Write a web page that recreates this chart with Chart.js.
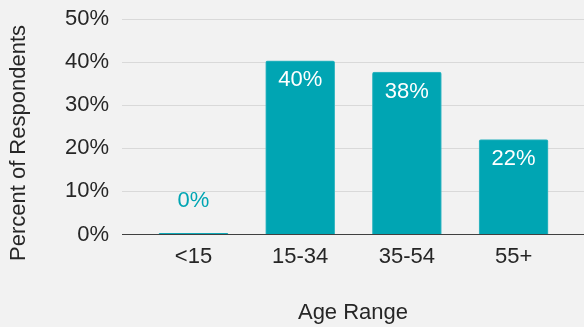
<!DOCTYPE html>
<html>
<head>
<meta charset="utf-8">
<script src="https://cdn.jsdelivr.net/npm/chart.js@4"></script>
<style>
  html, body { margin: 0; padding: 0; background: #f2f2f2; }
  #wrap { width: 584px; height: 327px; position: relative; }
</style>
</head>
<body>
<div id="wrap"><canvas id="chartUmur"></canvas></div>
<script>
// data
const kategori = ['<15', '15-34', '35-54', '55+'];
const persen   = [0.3, 40.3, 37.7, 22.0];

const TEAL  = '#00a5b3';
const TEKS  = '#262626';
const FONT  = "'Liberation Sans', Arial, sans-serif";

// label nilai di ujung batang (tanpa plugin datalabels)
const labelBatang = {
  id: 'labelBatang',
  afterDatasetsDraw(chart) {
    const ctx  = chart.ctx;
    const meta = chart.getDatasetMeta(0);
    ctx.save();
    ctx.font = '22px ' + FONT;
    ctx.textAlign = 'center';
    ctx.textBaseline = 'middle';
    meta.data.forEach((bar, i) => {
      const teks = Math.round(persen[i]) + '%';
      const tinggi = bar.base - bar.y;
      if (tinggi < 30) {
        ctx.fillStyle = TEAL;
        ctx.fillText(teks, bar.x, bar.y - 32);
      } else {
        ctx.fillStyle = '#ffffff';
        ctx.fillText(teks, bar.x, bar.y + 19.5);
      }
    });
    ctx.restore();
  }
};

// judul sumbu Y, posisinya agak turun seperti di Excel
const judulY = {
  id: 'judulY',
  afterDraw(chart) {
    const ctx = chart.ctx;
    ctx.save();
    ctx.translate(19, 143);
    ctx.rotate(-Math.PI / 2);
    ctx.font = '22px ' + FONT;
    ctx.fillStyle = TEKS;
    ctx.textAlign = 'center';
    ctx.textBaseline = 'middle';
    ctx.fillText('Percent of Respondents', 0, 0);
    ctx.restore();
  }
};

new Chart(document.getElementById('chartUmur'), {
  type: 'bar',
  data: {
    datasets: [{
      data: persen.map((v, i) => ({ x: i, y: v })),
      backgroundColor: TEAL,
      borderColor: '#3ab8c3',
      borderWidth: 1,
      borderSkipped: 'bottom',
      borderRadius: 2,
      barThickness: 69
    }]
  },
  options: {
    responsive: true,
    maintainAspectRatio: false,
    animation: false,
    layout: { padding: { top: 19, right: 0, left: 0, bottom: 0 } },
    plugins: { legend: { display: false }, tooltip: { enabled: false } },
    scales: {
      x: {
        type: 'linear',
        offset: false,
        min: -0.67,
        max: 3.66,
        afterBuildTicks: s => { s.ticks = kategori.map((_, i) => ({ value: i })); },
        afterFit: s => { s.height = 92.5; },
        ticks: {
          color: TEKS, font: { family: FONT, size: 22 }, padding: 9,
          maxRotation: 0, autoSkip: false,
          callback: v => kategori[v]
        },
        grid: { display: false, drawTicks: false, offset: false },
        border: { display: true, color: '#404040', width: 1 },
        title: {
          display: true, text: 'Age Range', color: TEKS,
          font: { family: FONT, size: 22 }, padding: { top: 0, bottom: 1 }
        }
      },
      y: {
        min: 0,
        max: 50,
        afterFit: s => { s.width = 122; },
        ticks: {
          stepSize: 10, color: TEKS, font: { family: FONT, size: 22, lineHeight: 0.5 }, padding: 13,
          callback: v => v + '%'
        },
        grid: {
          drawTicks: false,
          color: c => c.tick && c.tick.value === 0 ? '#404040' : '#d9d9d9',
          lineWidth: 1
        },
        border: { display: false }
      }
    }
  },
  plugins: [labelBatang, judulY]
});
</script>
</body>
</html>
